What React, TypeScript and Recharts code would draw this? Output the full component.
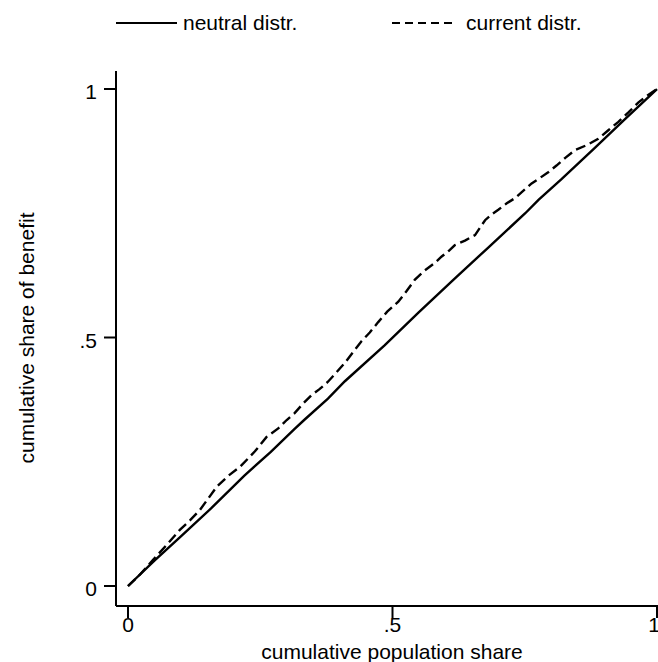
import React from "react";
import { LineChart, Line, XAxis, YAxis } from "recharts";

const neutralX = [0, 0.05, 0.1, 0.157, 0.22, 0.27, 0.315, 0.333, 0.378, 0.41, 0.485, 0.549, 0.618, 0.68, 0.751, 0.776, 0.82, 0.883, 0.94, 1];
const neutralY = [0, 0.051, 0.1, 0.156, 0.222, 0.27, 0.316, 0.334, 0.377, 0.412, 0.484, 0.55, 0.619, 0.68, 0.75, 0.777, 0.819, 0.882, 0.94, 1];

const currentX = [0, 0.02, 0.047, 0.075, 0.098, 0.118, 0.136, 0.168, 0.19, 0.212, 0.24, 0.262, 0.284, 0.3, 0.315, 0.33, 0.347, 0.362, 0.378, 0.395, 0.41, 0.425, 0.441, 0.457, 0.473, 0.49, 0.511, 0.527, 0.542, 0.56, 0.58, 0.593, 0.606, 0.618, 0.637, 0.656, 0.675, 0.688, 0.7, 0.716, 0.731, 0.747, 0.763, 0.78, 0.795, 0.81, 0.826, 0.845, 0.867, 0.889, 0.908, 0.927, 0.946, 0.965, 0.982, 1];
const currentY = [0, 0.02, 0.052, 0.085, 0.113, 0.133, 0.153, 0.2, 0.222, 0.24, 0.271, 0.3, 0.317, 0.334, 0.348, 0.366, 0.384, 0.396, 0.411, 0.431, 0.449, 0.47, 0.492, 0.51, 0.531, 0.552, 0.572, 0.594, 0.616, 0.634, 0.65, 0.663, 0.674, 0.686, 0.695, 0.706, 0.736, 0.748, 0.757, 0.77, 0.78, 0.795, 0.81, 0.822, 0.833, 0.846, 0.861, 0.877, 0.887, 0.9, 0.917, 0.934, 0.953, 0.973, 0.987, 1];

const tickValues = [0, 0.5, 1];
const tickLabels = ["0", ".5", "1"];
const seriesNames = ["neutral distr.", "current distr."];
const xTitle = "cumulative population share";
const yTitle = "cumulative share of benefit";

const neutralData = neutralX.map((x, i) => ({ x, y: neutralY[i] }));
const currentData = currentX.map((x, i) => ({ x, y: currentY[i] }));

const FONT = "'Liberation Sans', Arial, Helvetica, sans-serif";
const fmt = (v: number) => {
  const i = tickValues.indexOf(v);
  return i >= 0 ? tickLabels[i] : String(v);
};

const XTick = (props: any) => {
  const { x, y, payload } = props;
  return (
    <text x={x} y={y} dy={14} textAnchor="middle" fontSize={21} fontFamily={FONT} fill="#000">
      {fmt(payload.value)}
    </text>
  );
};

const YTick = (props: any) => {
  const { x, y, payload } = props;
  return (
    <text x={x} y={y} dy={10} textAnchor="end" fontSize={21} fontFamily={FONT} fill="#000">
      {fmt(payload.value)}
    </text>
  );
};

export default function App() {
  return (
    <div style={{ position: "absolute", left: 0, top: 0, width: 658, height: 662, overflow: "hidden", background: "#fff" }}>
      <LineChart width={658} height={662} margin={{ top: 71, right: 0, bottom: 16, left: 56 }}>
        <XAxis
          type="number"
          dataKey="x"
          domain={[-0.02268, 1.00189]}
          allowDataOverflow
          ticks={tickValues}
          tick={<XTick />}
          tickSize={12}
          tickMargin={0}
          height={40}
          axisLine={{ stroke: "#000", strokeWidth: 2 }}
          tickLine={{ stroke: "#000", strokeWidth: 2 }}
        />
        <YAxis
          type="number"
          dataKey="y"
          domain={[-0.04024, 1.03622]}
          allowDataOverflow
          ticks={tickValues}
          tick={<YTick />}
          tickSize={12}
          tickMargin={7}
          width={60}
          axisLine={{ stroke: "#000", strokeWidth: 2 }}
          tickLine={{ stroke: "#000", strokeWidth: 2 }}
        />
        <Line data={neutralData} dataKey="y" name={seriesNames[0]} stroke="#000" strokeWidth={2.4} dot={false} isAnimationActive={false} />
        <Line data={currentData} dataKey="y" name={seriesNames[1]} stroke="#000" strokeWidth={2.4} strokeDasharray="10 5" dot={false} isAnimationActive={false} />
      </LineChart>
      <svg width={658} height={662} style={{ position: "absolute", left: 0, top: 0, pointerEvents: "none" }}>
        <line x1={116} y1={23} x2={177} y2={23} stroke="#000" strokeWidth={2} />
        <text x={183} y={30} fontSize={21} fontFamily={FONT} fill="#000">{seriesNames[0]}</text>
        <line x1={392} y1={23} x2={453} y2={23} stroke="#000" strokeWidth={2} strokeDasharray="8 5" />
        <text x={466} y={30} fontSize={21} fontFamily={FONT} fill="#000">{seriesNames[1]}</text>
        <text x={392} y={659} textAnchor="middle" fontSize={21} fontFamily={FONT} fill="#000">{xTitle}</text>
        <text x={34} y={338} transform="rotate(-90 34 338)" textAnchor="middle" fontSize={21} fontFamily={FONT} fill="#000">{yTitle}</text>
      </svg>
    </div>
  );
}
